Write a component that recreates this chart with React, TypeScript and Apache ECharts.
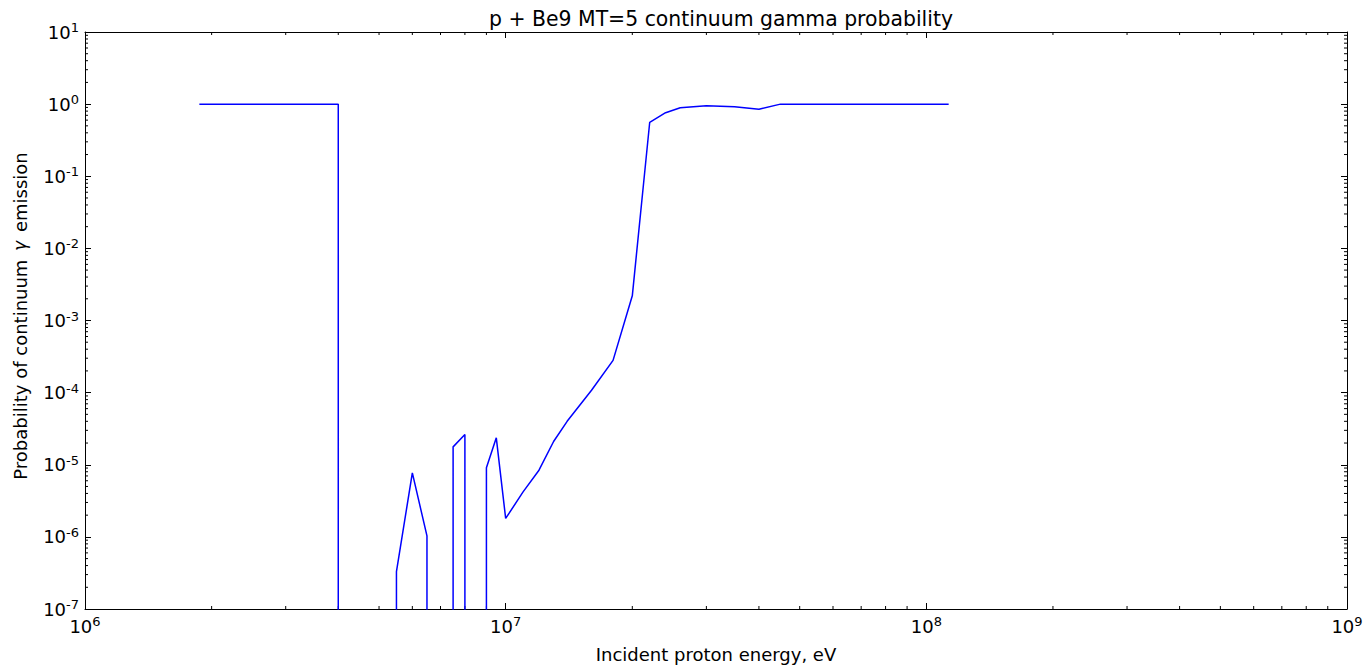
import React, { useEffect, useRef } from "react";
import * as echarts from "echarts";

// Incident proton energy (eV) and probability of continuum gamma emission
const energyEV = [
  1.87e6, 4.0e6, 4.0e6, 5.5e6, 5.5e6, 6.0e6, 6.5e6, 6.5e6, 7.5e6, 7.5e6,
  8.0e6, 8.0e6, 9.0e6, 9.0e6, 9.5e6, 1.0e7, 1.1e7, 1.2e7, 1.3e7, 1.4e7,
  1.6e7, 1.8e7, 2.0e7, 2.2e7, 2.4e7, 2.6e7, 3.0e7, 3.5e7, 4.0e7, 4.5e7,
  1.13e8,
];
const probability = [
  1, 1, 0, 0, 3.3e-7, 7.7e-6, 1.03e-6, 0, 0, 1.77e-5,
  2.63e-5, 0, 0, 9.1e-6, 2.36e-5, 1.8e-6, 4.2e-6, 8.4e-6, 2.1e-5, 4.0e-5,
  1.08e-4, 2.8e-4, 2.2e-3, 0.56, 0.76, 0.89, 0.95, 0.92, 0.85, 1,
  1,
];

const X_MIN = 1e6;
const X_MAX = 1e9;
const Y_MIN = 1e-7;
const Y_MAX = 1e1;
// zero probabilities are drawn below the visible range (clipped), as on a log plot
const ZERO_FLOOR = 1e-10;

const TITLE = "p + Be9 MT=5 continuum gamma probability";
const X_NAME = "Incident proton energy, eV";
const Y_NAME = "Probability of continuum {g|γ} emission";

function minorTicks(minExp: number, maxExp: number): number[] {
  const out: number[] = [];
  for (let e = minExp; e < maxExp; e++) {
    for (let k = 2; k <= 9; k++) out.push(k * Math.pow(10, e));
  }
  return out;
}

const FONT = "DejaVu Sans";

export default function App() {
  const ref = useRef<HTMLDivElement>(null);
  useEffect(() => {
    if (!ref.current) return;
    const chart = echarts.init(ref.current, undefined, { renderer: "svg" });
    const lineData = energyEV.map((x, i) => [x, probability[i] > 0 ? probability[i] : ZERO_FLOOR]);
    const xMinor = minorTicks(6, 9).map((v) => [v, 1]);
    const yMinor = minorTicks(-7, 1).map((v) => [1e7, v]);

    const labelFmt = (v: number) => {
      const e = Math.round(Math.log10(v));
      return `{b|10}{s|${e}}`;
    };
    const rich = {
      b: { fontSize: 18, fontFamily: FONT, color: "#000", lineHeight: 22 },
      s: { fontSize: 13, fontFamily: FONT, color: "#000", verticalAlign: "top", lineHeight: 13 },
    };
    const axisBase = {
      axisLine: { show: true, onZero: false, lineStyle: { color: "#000", width: 1 } },
      splitLine: { show: false },
      minorTick: { show: false },
    };

    const option: any = {
      animation: false,
      backgroundColor: "#fff",
      title: {
        text: TITLE,
        left: 716,
        top: 4,
        textAlign: "center",
        textStyle: { fontFamily: FONT, fontSize: 20.4, fontWeight: "normal", color: "#000" },
      },
      grid: {
        left: 85,
        right: 18,
        top: 32,
        bottom: 57,
        containLabel: false,
        outerBoundsMode: "none",
      },
      graphic: [
        {
          type: "text",
          x: 20,
          y: 316,
          rotation: Math.PI / 2,
          style: {
            text: Y_NAME,
            fontFamily: FONT,
            fontSize: 18,
            fill: "#000",
            align: "center",
            verticalAlign: "middle",
            rich: {
              g: { fontFamily: FONT, fontSize: 17, fontStyle: "italic", fill: "#000", padding: [0, 3, 0, 3] },
            },
          },
        },
      ],
      xAxis: [
        {
          ...axisBase,
          type: "log",
          logBase: 10,
          min: X_MIN,
          max: X_MAX,
          splitNumber: 3,
          position: "bottom",
          name: X_NAME,
          nameLocation: "middle",
          nameGap: 36,
          nameTextStyle: { fontFamily: FONT, fontSize: 18, color: "#000" },
          axisTick: { show: true, inside: true, length: 6, lineStyle: { color: "#000" } },
          axisLabel: { formatter: labelFmt, rich, margin: 6 },
        },
        {
          ...axisBase,
          type: "log",
          logBase: 10,
          min: X_MIN,
          max: X_MAX,
          splitNumber: 3,
          position: "top",
          axisTick: { show: true, inside: true, length: 6, lineStyle: { color: "#000" } },
          axisLabel: { show: false },
        },
      ],
      yAxis: [
        {
          ...axisBase,
          type: "log",
          logBase: 10,
          min: Y_MIN,
          max: Y_MAX,
          splitNumber: 8,
          position: "left",
          axisTick: { show: true, inside: true, length: 6, lineStyle: { color: "#000" } },
          axisLabel: { formatter: labelFmt, rich, margin: 6 },
        },
        {
          ...axisBase,
          type: "log",
          logBase: 10,
          min: Y_MIN,
          max: Y_MAX,
          splitNumber: 8,
          position: "right",
          axisTick: { show: true, inside: true, length: 6, lineStyle: { color: "#000" } },
          axisLabel: { show: false },
        },
      ],
      series: [
        {
          type: "line",
          data: lineData,
          xAxisIndex: 0,
          yAxisIndex: 0,
          showSymbol: false,
          symbol: "none",
          clip: true,
          lineStyle: { color: "#0000ff", width: 1.5 },
          z: 5,
        },
        {
          type: "custom",
          xAxisIndex: 0,
          yAxisIndex: 0,
          data: xMinor,
          silent: true,
          clip: false,
          renderItem: (_p: any, api: any) => {
            const x = api.value(0);
            const b = api.coord([x, Y_MIN]);
            const t = api.coord([x, Y_MAX]);
            const st = { stroke: "#000", lineWidth: 1 };
            return {
              type: "group",
              children: [
                { type: "line", shape: { x1: b[0], y1: b[1], x2: b[0], y2: b[1] - 3 }, style: st },
                { type: "line", shape: { x1: t[0], y1: t[1], x2: t[0], y2: t[1] + 3 }, style: st },
              ],
            };
          },
        },
        {
          type: "custom",
          xAxisIndex: 0,
          yAxisIndex: 0,
          data: yMinor,
          silent: true,
          clip: false,
          renderItem: (_p: any, api: any) => {
            const y = api.value(1);
            const l = api.coord([X_MIN, y]);
            const r = api.coord([X_MAX, y]);
            const st = { stroke: "#000", lineWidth: 1 };
            return {
              type: "group",
              children: [
                { type: "line", shape: { x1: l[0], y1: l[1], x2: l[0] + 3, y2: l[1] }, style: st },
                { type: "line", shape: { x1: r[0], y1: r[1], x2: r[0] - 3, y2: r[1] }, style: st },
              ],
            };
          },
        },
      ],
    };
    chart.setOption(option);
    return () => chart.dispose();
  }, []);
  return (
    <div
      ref={ref}
      style={{ position: "fixed", left: 0, top: 0, width: 1365, height: 666, background: "#fff" }}
    />
  );
}
